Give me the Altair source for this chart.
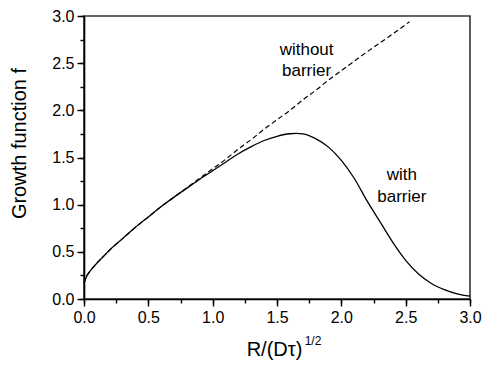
import altair as alt
import pandas as pd

FONT = "Liberation Sans"

# --- data ---
x_without = [0.00, 0.02, 0.05, 0.10, 0.15, 0.20, 0.30, 0.40, 0.50, 0.60, 0.70, 0.80,
             0.90, 1.00, 1.10, 1.20, 1.30, 1.40, 1.50, 1.60, 1.70, 1.80, 1.90, 2.00,
             2.20, 2.40, 2.53]
f_without = [0.17, 0.24, 0.30, 0.38, 0.45, 0.52, 0.64, 0.76, 0.87, 0.98, 1.08, 1.18,
             1.28, 1.38, 1.48, 1.59, 1.69, 1.80, 1.90, 2.00, 2.11, 2.21, 2.32, 2.42,
             2.62, 2.81, 2.94]

x_with = [0.00, 0.02, 0.05, 0.10, 0.15, 0.20, 0.30, 0.40, 0.50, 0.60, 0.70, 0.80,
          0.90, 1.00, 1.10, 1.20, 1.30, 1.40, 1.50, 1.60, 1.65, 1.70, 1.80, 1.90,
          2.00, 2.10, 2.20, 2.30, 2.40, 2.50, 2.60, 2.70, 2.80, 2.90, 3.00]
f_with = [0.17, 0.24, 0.30, 0.38, 0.45, 0.52, 0.64, 0.76, 0.87, 0.98, 1.08, 1.175,
          1.27, 1.36, 1.45, 1.54, 1.615, 1.68, 1.725, 1.752, 1.755, 1.75, 1.70, 1.61,
          1.47, 1.28, 1.04, 0.82, 0.60, 0.41, 0.265, 0.165, 0.10, 0.055, 0.03]

major_ticks = [0.0, 0.5, 1.0, 1.5, 2.0, 2.5, 3.0]
minor_ticks = [0.0, 0.25, 0.5, 0.75, 1.0, 1.25, 1.5, 1.75, 2.0, 2.25, 2.5, 2.75, 3.0]

label_x = [1.73, 1.73, 2.47, 2.47]
label_y = [2.64, 2.42, 1.31, 1.08]
label_text = ["without", "barrier", "with", "barrier"]

df_without = pd.DataFrame({"x": x_without, "f": f_without})
df_with = pd.DataFrame({"x": x_with, "f": f_with})
df_labels = pd.DataFrame({"x": label_x, "f": label_y, "t": label_text})
df_sup = pd.DataFrame({"t": ["1/2"]})

xs = alt.Scale(domain=[0, 3], nice=False, zero=False)
ys = alt.Scale(domain=[0, 3], nice=False, zero=False)

common = dict(grid=False, domainColor="black", domainWidth=1.6, tickColor="black",
              tickWidth=1.4, labelColor="black", labelFontSize=16, labelFont=FONT,
              format=".1f", labelOverlap=False, labelFlush=False,
              titleFont=FONT, titleFontSize=20, titleFontWeight="normal",
              titleColor="black")

x_axis = alt.Axis(values=major_ticks, tickSize=7, labelPadding=3, orient="bottom",
                  title="R/(Dτ)", titleX=190, titleY=50, titleBaseline="middle",
                  titleAlign="center", **common)
y_axis = alt.Axis(values=major_ticks, tickSize=7, labelPadding=3, orient="left",
                  title="Growth function f", titleX=-65, titleY=127, titleAngle=270,
                  titleBaseline="middle", titleAlign="center", **common)

x_minor = alt.Axis(values=minor_ticks, tickSize=4, labels=False, domain=False,
                   grid=False, tickColor="black", tickWidth=1.4, orient="bottom", title="")
y_minor = alt.Axis(values=minor_ticks, tickSize=4, labels=False, domain=False,
                   grid=False, tickColor="black", tickWidth=1.4, orient="left", title="")

solid = alt.Chart(df_with).mark_line(color="black", strokeWidth=1.3,
                                     interpolate="monotone").encode(
    x=alt.X("x:Q", scale=xs, axis=x_axis),
    y=alt.Y("f:Q", scale=ys, axis=y_axis),
)

dashed = alt.Chart(df_without).mark_line(color="black", strokeWidth=1.2,
                                         strokeDash=[5, 3],
                                         interpolate="monotone").encode(
    x=alt.X("x:Q", scale=xs, axis=None),
    y=alt.Y("f:Q", scale=ys, axis=None),
)

minor = alt.Chart(df_with).mark_line(opacity=0).encode(
    x=alt.X("x:Q", scale=xs, axis=x_minor),
    y=alt.Y("f:Q", scale=ys, axis=y_minor),
)

labels = alt.Chart(df_labels).mark_text(fontSize=17, font=FONT, color="black",
                                        align="center", baseline="middle").encode(
    x=alt.X("x:Q", scale=xs, axis=None),
    y=alt.Y("f:Q", scale=ys, axis=None),
    text="t:N",
)

sup = alt.Chart(df_sup).mark_text(fontSize=12, font=FONT, color="black",
                                  align="center", baseline="middle").encode(
    x=alt.value(229), y=alt.value(325), text="t:N"
)

chart = alt.layer(solid, dashed, minor, labels, sup).resolve_axis(
    x="independent", y="independent"
).properties(
    width=386, height=283,
    autosize=alt.AutoSizeParams(type="none"),
    padding={"left": 76, "top": 8, "right": 12, "bottom": 63},
).configure(font=FONT).configure_view(stroke="#333", strokeWidth=1.6)

chart.save("out.html", embed_options={"renderer": "svg", "actions": False})
